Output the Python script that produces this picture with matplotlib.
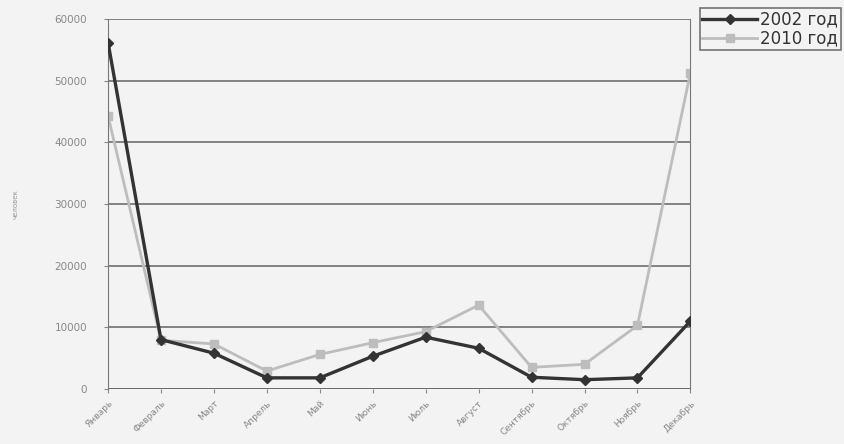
import numpy as np
import matplotlib.pyplot as plt

# данные по месяцам
months = ['Январь', 'Февраль', 'Март', 'Апрель', 'Май', 'Июнь',
          'Июль', 'Август', 'Сентябрь', 'Октябрь', 'Ноябрь', 'Декабрь']
y2002 = [56200, 8000, 5800, 1800, 1800, 5300, 8400, 6600, 1900, 1500, 1800, 11000]
y2010 = [44300, 7900, 7300, 2900, 5600, 7500, 9300, 13600, 3500, 4000, 10300, 51300]
yticks = [0, 10000, 20000, 30000, 40000, 50000, 60000]

bg = '#f3f3f3'
fig = plt.figure(figsize=(8.44, 4.44), dpi=100, facecolor=bg)
ax = fig.add_axes([0.128, 0.124, 0.69, 0.833], facecolor=bg)

x = np.arange(len(months))
ax.plot(x, y2002, color='#333333', lw=2.4, marker='D', ms=5, label='2002 год', zorder=3)
ax.plot(x, y2010, color='#bdbdbd', lw=2.0, marker='s', ms=6, label='2010 год', zorder=2)

ax.set_xlim(0, 11)
ax.set_ylim(0, 60000)
ax.set_yticks(yticks)
ax.set_yticklabels([str(v) for v in yticks], fontsize=7.5, color='#888888')
ax.set_xticks(x)
ax.set_xticklabels(months, rotation=45, ha='right', rotation_mode='anchor',
                   fontsize=6.5, color='#888888')
ax.grid(axis='y', color='#6e6e6e', lw=1.2)
ax.set_axisbelow(True)
ax.tick_params(axis='y', length=3, color='#888888', pad=12)
ax.tick_params(axis='x', length=3, color='#888888', pad=4)

for s in ['top', 'bottom']:
    ax.spines[s].set_visible(False)
ax.spines['left'].set_color('#777777')
ax.spines['right'].set_color('#777777')
ax.axhline(0, color='#666666', lw=1.2, zorder=1)

ax.set_ylabel('человек', fontsize=5, color='#999999', labelpad=26)

leg = fig.legend(loc='upper left', bbox_to_anchor=(0.819, 1.0), fontsize=12,
                 frameon=True, fancybox=False, edgecolor='#555555',
                 facecolor=bg, handlelength=3.3, borderpad=0.15,
                 labelspacing=0.05, handletextpad=0.2, labelcolor='#333333')
leg.get_frame().set_linewidth(1.2)

plt.savefig('out.png', dpi=100, facecolor=bg)
